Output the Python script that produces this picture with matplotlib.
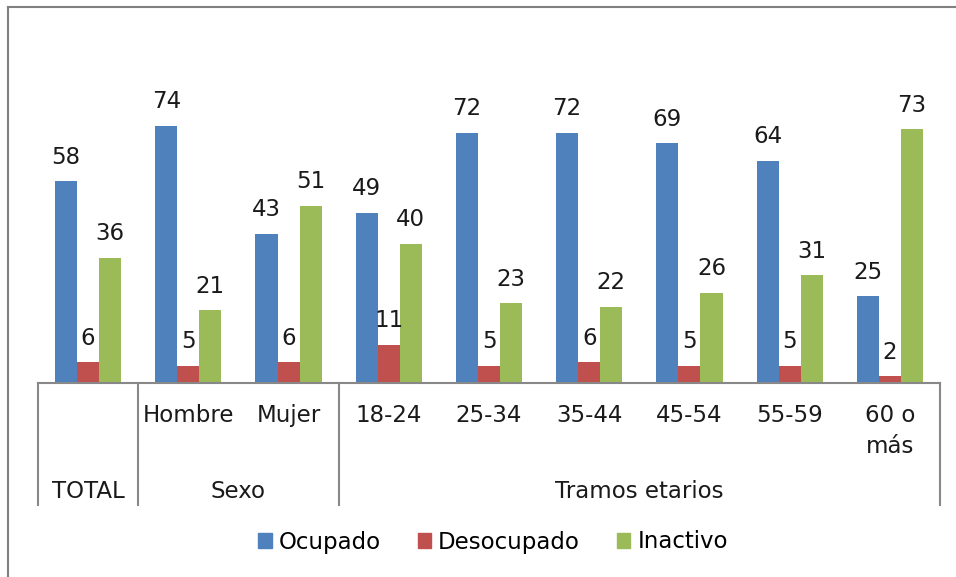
import matplotlib
matplotlib.use("Agg")
import matplotlib.pyplot as plt
from matplotlib.lines import Line2D
from matplotlib.patches import Patch
import numpy as np

categories = ["", "Hombre", "Mujer", "18-24", "25-34", "35-44", "45-54", "55-59", "60 o\nmás"]
groups = ["TOTAL", "Sexo", "Tramos etarios"]
group_spans = [(0, 1), (1, 3), (3, 9)]
series_names = ["Ocupado", "Desocupado", "Inactivo"]
ocupado = [58, 74, 43, 49, 72, 72, 69, 64, 25]
desocupado = [6, 5, 6, 11, 5, 6, 5, 5, 2]
inactivo = [36, 21, 51, 40, 23, 22, 26, 31, 73]
colors = ["#4F81BD", "#C0504D", "#9BBB59"]

plt.rcParams['font.family'] = ['DejaVu Sans']
W, H = 956, 577
fig = plt.figure(figsize=(W / 100, H / 100), dpi=100)

def fx(px):
    return px / W

def fy(py):
    return 1 - py / H

x0, x1, ybase, ytop = 38, 940, 383, 105
ax = fig.add_axes([fx(x0), fy(ybase), fx(x1) - fx(x0), fy(ytop) - fy(ybase)])
n = len(categories)
x = np.arange(n)
bw = 0.22
fs = 16.5
for i, (vals, c) in enumerate(zip([ocupado, desocupado, inactivo], colors)):
    bars = ax.bar(x + (i - 1) * bw, vals, bw, color=c, label=series_names[i])
    for b, v in zip(bars, vals):
        ax.annotate(str(v), (b.get_x() + b.get_width() / 2, v), xytext=(0, 9),
                    textcoords="offset points", ha="center", va="bottom",
                    fontsize=fs, color="#1a1a1a")
ax.set_xlim(-0.5, n - 0.5)
ax.set_ylim(0, 80)
for s in ["top", "right", "left"]:
    ax.spines[s].set_visible(False)
ax.spines["bottom"].set_color("#888888")
ax.spines["bottom"].set_linewidth(1.5)
ax.set_yticks([])
ax.set_xticks([])

# category labels
cat_w = (x1 - x0) / n
for i, c in enumerate(categories):
    if c:
        fig.text(fx(x0 + (i + 0.5) * cat_w), fy(404), c, ha="center", va="top",
                 fontsize=fs, color="#1a1a1a", linespacing=1.45)
# group labels and dividers
for g, (a, b) in zip(groups, group_spans):
    fig.text(fx(x0 + (a + b) / 2 * cat_w), fy(492), g, ha="center", va="center",
             fontsize=fs, color="#1a1a1a")
for k in [0, 1, 3, 9]:
    xp = x0 + k * cat_w
    fig.add_artist(Line2D([fx(xp), fx(xp)], [fy(ybase), fy(505)], color="#888888", lw=1.5))

# outer frame
fig.add_artist(Line2D([fx(8), fx(W + 5)], [fy(7), fy(7)], color="#808080", lw=1.5))
fig.add_artist(Line2D([fx(8), fx(8)], [fy(7), fy(H + 5)], color="#808080", lw=1.5))

handles = [Patch(color=c) for c in colors]
fig.legend(handles, series_names, loc="center", bbox_to_anchor=(fx(493), fy(542)),
           ncol=3, frameon=False, fontsize=fs, handlelength=0.6, handleheight=0.6,
           handletextpad=0.3, columnspacing=1.6)

fig.savefig("out.png", dpi=100)
